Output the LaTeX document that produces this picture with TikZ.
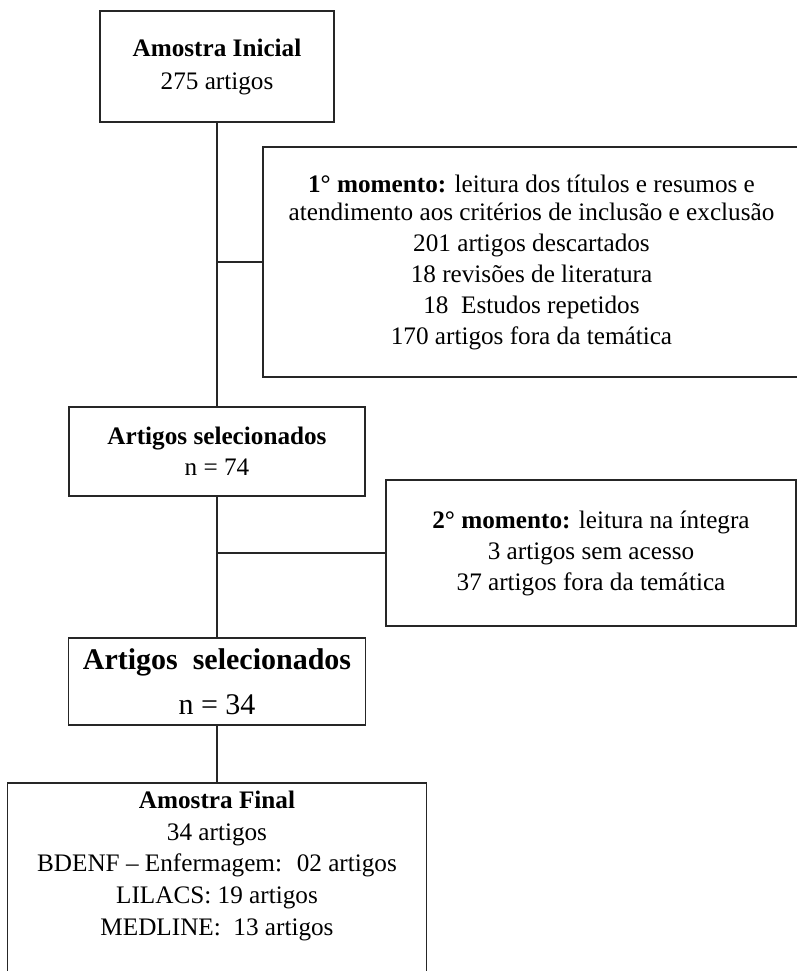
\documentclass[tikz,border=0pt]{standalone}
\usepackage{fontspec}
\setmainfont{Liberation Serif}
\usetikzlibrary{calc,positioning}

\begin{document}
\begin{tikzpicture}[
            x=0.5pt, y=-0.5pt,
            stagebox/.style={draw=black!85, line width=0.8pt, align=center, inner sep=1pt,
              font=\fontsize{12.6}{15.5}\selectfont},
            bigstage/.style={stagebox, font=\fontsize{15}{22.5}\selectfont},
            link/.style={draw=black!85, line width=0.8pt},
          ]
          \useasboundingbox (0,0) rectangle (797,971);
          \clip (0,0) rectangle (797,971);
          \node[stagebox, minimum width=117pt, minimum height=55.5pt] (ini) at (217,66.5)
            {\textbf{Amostra Inicial}\\[1pt]275 artigos};
          \node[stagebox, minimum width=268.5pt, minimum height=115pt] (mom1) at (531.5,262)
            {\textbf{1° momento:} leitura dos títulos e resumos e\\[-1.5pt]
             atendimento aos critérios de inclusão e exclusão\\
             201 artigos descartados\\
             18 revisões de literatura\\
             18~ Estudos repetidos\\
             170 artigos fora da temática};
          \node[stagebox, minimum width=148pt, minimum height=44.5pt] (sel1) at (217,451.5)
            {\textbf{Artigos selecionados}\\n = 74};
          \node[stagebox, minimum width=205pt, minimum height=73pt] (mom2) at (591,553)
            {\textbf{2° momento:} leitura na íntegra\\
             3 artigos sem acesso\\
             37 artigos fora da temática};
          \node[bigstage, minimum width=148.5pt, minimum height=43.5pt] (sel2) at (217,681.5)
            {\textbf{Artigos~ selecionados}\\n = 34};
          \node[stagebox, font=\fontsize{12.6}{15.8}\selectfont, minimum width=209.5pt, minimum height=96pt] (fin) at (217,879)
            {\textbf{Amostra Final}\\
             34 artigos\\
             BDENF – Enfermagem:~ 02 artigos\\
             LILACS: 19 artigos\\
             MEDLINE:~ 13 artigos\\
             \mbox{}};
          \draw[link] (ini) -- (sel1);
          \draw[link] (mom1.west) -- (mom1.west -| ini.south);
          \draw[link] (sel1) -- (sel2);
          \draw[link] (mom2.west) -- (mom2.west -| sel1.south);
          \draw[link] (sel2) -- (fin);
        \end{tikzpicture}
\end{document}
